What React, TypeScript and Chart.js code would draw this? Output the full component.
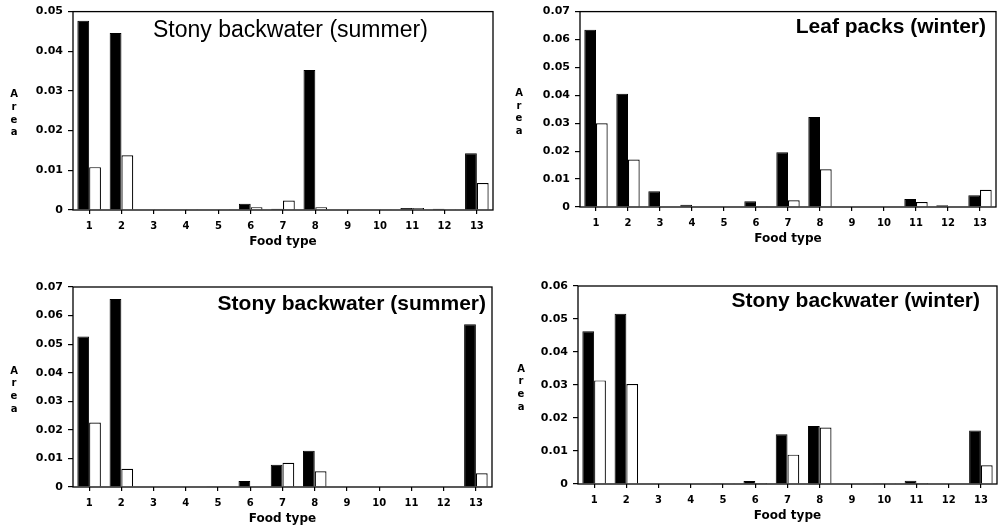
import React, { useEffect, useRef } from "react";
import { Chart, registerables } from "chart.js";

Chart.register(...registerables);

const foodTypes = ["1", "2", "3", "4", "5", "6", "7", "8", "9", "10", "11", "12", "13"];

const title1 = "Stony backwater (summer)";
const black1 = [0.0477, 0.0446, 0.0001, 0.0001, 0.0001, 0.0016, 0.0003, 0.0353, 0.0001, 0.0001, 0.0005, 0.0003, 0.0143];
const white1 = [0.0108, 0.0138, 0.0002, 0.0002, 0.0002, 0.0007, 0.0024, 0.0007, 0.0002, 0.0002, 0.0005, 0.0002, 0.0068];

const title2 = "Leaf packs (winter)";
const black2 = [0.0635, 0.0406, 0.0056, 0.0008, 0.0002, 0.0021, 0.0196, 0.0322, 0, 0.0002, 0.0029, 0.0006, 0.0042];
const white2 = [0.0300, 0.0170, 0, 0.0002, 0.0002, 0.0003, 0.0024, 0.0135, 0, 0.0002, 0.0018, 0, 0.0062];

const title3 = "Stony backwater (summer)";
const black3 = [0.0527, 0.0658, 0.0002, 0.0002, 0.0001, 0.0021, 0.0078, 0.0127, 0, 0, 0, 0, 0.0570];
const white3 = [0.0226, 0.0064, 0.0002, 0.0002, 0.0001, 0, 0.0085, 0.0055, 0, 0, 0, 0, 0.0048];

const title4 = "Stony backwater (winter)";
const black4 = [0.0463, 0.0516, 0, 0, 0.0002, 0.0009, 0.0151, 0.0176, 0, 0.0002, 0.001, 0, 0.0162];
const white4 = [0.0314, 0.0303, 0, 0, 0.0002, 0.0003, 0.0089, 0.0171, 0, 0.0002, 0.0003, 0, 0.0057];

const yMax1 = 0.05;
const yMax2 = 0.07;
const yMax3 = 0.07;
const yMax4 = 0.06;

const yTitle = "Area";
const xTitle = "Food type";

type Geo = {
  left: number; top: number; w: number; h: number;
  yW: number; padTop: number; padRight: number; xH: number;
  titleFont: string; titleAnchor: "left" | "right"; titleDx: number; titleDy: number;
  areaX: number;
};

const deco = {
  id: "panelDeco",
  afterDraw(chart: any, _args: any, opts: any) {
    const { ctx, chartArea } = chart;
    const { left, right, top, bottom } = chartArea;
    ctx.save();
    ctx.strokeStyle = "#000";
    ctx.lineWidth = 1.3;
    ctx.strokeRect(left, top, right - left, bottom - top);
    ctx.fillStyle = "#000";
    // panel title
    ctx.font = opts.titleFont;
    ctx.textBaseline = "middle";
    if (opts.titleAnchor === "left") {
      ctx.textAlign = "left";
      ctx.fillText(opts.title, left + opts.titleDx, top + opts.titleDy);
    } else {
      ctx.textAlign = "right";
      ctx.fillText(opts.title, right - opts.titleDx, top + opts.titleDy);
    }
    // x title
    ctx.font = "bold 12px 'DejaVu Sans'";
    ctx.textAlign = "center";
    ctx.fillText(xTitle, (left + right) / 2, bottom + 32);
    // stacked y title
    ctx.font = "bold 10px 'DejaVu Sans'";
    const letters = yTitle.split("");
    const step = 12.7;
    const cy = (top + bottom) / 2 + 3;
    letters.forEach((ch, i) => {
      ctx.fillText(ch, opts.areaX, cy + (i - (letters.length - 1) / 2) * step);
    });
    ctx.restore();
  },
};

function Panel(props: { geo: Geo; title: string; black: number[]; white: number[]; yMax: number }) {
  const ref = useRef<HTMLCanvasElement>(null);
  const { geo, title, black, white, yMax } = props;
  useEffect(() => {
    if (!ref.current) return;
    const chart = new Chart(ref.current, {
      type: "bar",
      data: {
        labels: foodTypes,
        datasets: [
          {
            data: black,
            backgroundColor: "#000",
            borderColor: "#000",
            borderWidth: 1,
            categoryPercentage: 0.73,
            barPercentage: 1,
          },
          {
            data: white,
            backgroundColor: "#fff",
            borderColor: "#000",
            borderWidth: 1.2,
            categoryPercentage: 0.73,
            barPercentage: 1,
          },
        ],
      },
      options: {
        responsive: false,
        animation: false,
        layout: { padding: { top: geo.padTop, right: geo.padRight, left: 0, bottom: 0 } },
        plugins: {
          legend: { display: false },
          tooltip: { enabled: false },
          panelDeco: {
            title,
            titleFont: geo.titleFont,
            titleAnchor: geo.titleAnchor,
            titleDx: geo.titleDx,
            titleDy: geo.titleDy,
            areaX: geo.areaX,
          },
        } as any,
        scales: {
          x: {
            offset: true,
            grid: { display: true, offset: false, drawOnChartArea: false, drawTicks: true, tickLength: 4, color: "#000", lineWidth: 1.2 },
            border: { display: false },
            ticks: { color: "#000", font: { family: "'DejaVu Sans'", size: 10, weight: "bold" }, padding: 6, maxRotation: 0, autoSkip: false },
            afterFit: (s: any) => { s.height = geo.xH; },
          },
          y: {
            min: 0,
            max: yMax,
            grid: { display: true, drawOnChartArea: false, drawTicks: true, tickLength: 5, color: "#000", lineWidth: 1.2 },
            border: { display: false },
            ticks: {
              stepSize: 0.01,
              color: "#000",
              font: { family: "'DejaVu Sans'", size: 11, weight: "bold" },
              padding: 5,
              callback: (v: any) => (Number(v) === 0 ? "0" : Number(v).toFixed(2)),
            },
            afterFit: (s: any) => { s.width = geo.yW; },
          },
        },
      },
      plugins: [deco],
    });
    return () => chart.destroy();
  }, []);
  return (
    <canvas
      ref={ref}
      width={geo.w}
      height={geo.h}
      style={{ position: "absolute", left: geo.left, top: geo.top, width: geo.w, height: geo.h, display: "block" }}
    />
  );
}

const geo1: Geo = { left: 0, top: 0, w: 500, h: 262, yW: 73, padTop: 10, padRight: 7, xH: 52, titleFont: "23px 'Liberation Sans'", titleAnchor: "left", titleDx: 80, titleDy: 19, areaX: 14 };
const geo2: Geo = { left: 500, top: 0, w: 502, h: 262, yW: 80, padTop: 7, padRight: 6, xH: 55, titleFont: "bold 21px 'Liberation Sans'", titleAnchor: "right", titleDx: 10, titleDy: 16, areaX: 19 };
const geo3: Geo = { left: 0, top: 262, w: 500, h: 270, yW: 73, padTop: 25, padRight: 8, xH: 45, titleFont: "bold 21px 'Liberation Sans'", titleAnchor: "right", titleDx: 6, titleDy: 17, areaX: 14 };
const geo4: Geo = { left: 500, top: 262, w: 502, h: 270, yW: 78, padTop: 24, padRight: 5, xH: 48, titleFont: "bold 21px 'Liberation Sans'", titleAnchor: "right", titleDx: 17, titleDy: 15, areaX: 21 };

export default function App() {
  return (
    <div style={{ position: "absolute", left: 0, top: 0, width: 1002, height: 532, background: "#fff", overflow: "hidden" }}>
      <Panel geo={geo1} title={title1} black={black1} white={white1} yMax={yMax1} />
      <Panel geo={geo2} title={title2} black={black2} white={white2} yMax={yMax2} />
      <Panel geo={geo3} title={title3} black={black3} white={white3} yMax={yMax3} />
      <Panel geo={geo4} title={title4} black={black4} white={white4} yMax={yMax4} />
    </div>
  );
}
